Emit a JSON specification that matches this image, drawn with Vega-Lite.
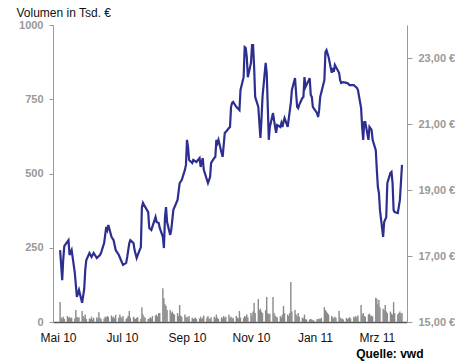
{
  "$schema": "https://vega.github.io/schema/vega-lite/v6.json",
  "width": 354,
  "height": 297,
  "autosize": {"type": "none"},
  "padding": {"left": 53, "top": 25, "right": 57, "bottom": 39},
  "background": "white",
  "config": {"view": {"stroke": null}, "font": "Liberation Sans"},
  "datasets": {
    "vol": [
      {"d":"2010-05-03","v":67},{"d":"2010-05-04","v":15},{"d":"2010-05-05","v":12},{"d":"2010-05-06","v":18},{"d":"2010-05-07","v":10},
      {"d":"2010-05-10","v":20},{"d":"2010-05-11","v":14},{"d":"2010-05-12","v":17},{"d":"2010-05-13","v":12},{"d":"2010-05-14","v":15},
      {"d":"2010-05-17","v":12},{"d":"2010-05-18","v":40},{"d":"2010-05-19","v":18},{"d":"2010-05-20","v":14},{"d":"2010-05-21","v":16},
      {"d":"2010-05-24","v":37},{"d":"2010-05-25","v":20},{"d":"2010-05-26","v":14},{"d":"2010-05-27","v":25},{"d":"2010-05-28","v":10},
      {"d":"2010-05-31","v":12},{"d":"2010-06-01","v":10},{"d":"2010-06-02","v":18},{"d":"2010-06-03","v":8},{"d":"2010-06-04","v":14},
      {"d":"2010-06-07","v":16},{"d":"2010-06-08","v":12},{"d":"2010-06-09","v":33},{"d":"2010-06-10","v":14},{"d":"2010-06-11","v":10},
      {"d":"2010-06-14","v":12},{"d":"2010-06-15","v":18},{"d":"2010-06-16","v":15},{"d":"2010-06-17","v":20},{"d":"2010-06-18","v":17},
      {"d":"2010-06-21","v":22},{"d":"2010-06-22","v":15},{"d":"2010-06-23","v":18},{"d":"2010-06-24","v":12},{"d":"2010-06-25","v":24},
      {"d":"2010-06-28","v":14},{"d":"2010-06-29","v":25},{"d":"2010-06-30","v":17},{"d":"2010-07-01","v":12},{"d":"2010-07-02","v":20},
      {"d":"2010-07-05","v":10},{"d":"2010-07-06","v":14},{"d":"2010-07-07","v":20},{"d":"2010-07-08","v":37},{"d":"2010-07-09","v":15},
      {"d":"2010-07-12","v":18},{"d":"2010-07-13","v":12},{"d":"2010-07-14","v":10},{"d":"2010-07-15","v":14},{"d":"2010-07-16","v":16},
      {"d":"2010-07-19","v":10},{"d":"2010-07-20","v":50},{"d":"2010-07-21","v":25},{"d":"2010-07-22","v":18},{"d":"2010-07-23","v":14},
      {"d":"2010-07-26","v":10},{"d":"2010-07-27","v":12},{"d":"2010-07-28","v":16},{"d":"2010-07-29","v":12},{"d":"2010-07-30","v":20},
      {"d":"2010-08-02","v":22},{"d":"2010-08-03","v":25},{"d":"2010-08-04","v":18},{"d":"2010-08-05","v":30},{"d":"2010-08-06","v":30},
      {"d":"2010-08-09","v":114},{"d":"2010-08-10","v":80},{"d":"2010-08-11","v":60},{"d":"2010-08-12","v":55},{"d":"2010-08-13","v":40},
      {"d":"2010-08-16","v":40},{"d":"2010-08-17","v":30},{"d":"2010-08-18","v":35},{"d":"2010-08-19","v":28},{"d":"2010-08-20","v":25},
      {"d":"2010-08-23","v":30},{"d":"2010-08-24","v":20},{"d":"2010-08-25","v":57},{"d":"2010-08-26","v":22},{"d":"2010-08-27","v":18},
      {"d":"2010-08-30","v":25},{"d":"2010-08-31","v":15},{"d":"2010-09-01","v":18},{"d":"2010-09-02","v":12},{"d":"2010-09-03","v":20},
      {"d":"2010-09-06","v":14},{"d":"2010-09-07","v":10},{"d":"2010-09-08","v":12},{"d":"2010-09-09","v":15},{"d":"2010-09-10","v":10},
      {"d":"2010-09-13","v":12},{"d":"2010-09-14","v":18},{"d":"2010-09-15","v":10},{"d":"2010-09-16","v":14},{"d":"2010-09-17","v":22},
      {"d":"2010-09-20","v":14},{"d":"2010-09-21","v":20},{"d":"2010-09-22","v":12},{"d":"2010-09-23","v":10},{"d":"2010-09-24","v":16},
      {"d":"2010-09-27","v":18},{"d":"2010-09-28","v":12},{"d":"2010-09-29","v":25},{"d":"2010-09-30","v":14},{"d":"2010-10-01","v":10},
      {"d":"2010-10-04","v":16},{"d":"2010-10-05","v":12},{"d":"2010-10-06","v":20},{"d":"2010-10-07","v":14},{"d":"2010-10-08","v":18},
      {"d":"2010-10-11","v":25},{"d":"2010-10-12","v":15},{"d":"2010-10-13","v":18},{"d":"2010-10-14","v":12},{"d":"2010-10-15","v":14},
      {"d":"2010-10-18","v":20},{"d":"2010-10-19","v":15},{"d":"2010-10-20","v":12},{"d":"2010-10-21","v":37},{"d":"2010-10-22","v":15},
      {"d":"2010-10-25","v":14},{"d":"2010-10-26","v":20},{"d":"2010-10-27","v":18},{"d":"2010-10-28","v":25},{"d":"2010-10-29","v":16},
      {"d":"2010-11-01","v":30},{"d":"2010-11-02","v":22},{"d":"2010-11-03","v":35},{"d":"2010-11-04","v":64},{"d":"2010-11-05","v":30},
      {"d":"2010-11-08","v":77},{"d":"2010-11-09","v":40},{"d":"2010-11-10","v":45},{"d":"2010-11-11","v":35},{"d":"2010-11-12","v":30},
      {"d":"2010-11-15","v":40},{"d":"2010-11-16","v":84},{"d":"2010-11-17","v":30},{"d":"2010-11-18","v":25},{"d":"2010-11-19","v":28},
      {"d":"2010-11-22","v":84},{"d":"2010-11-23","v":30},{"d":"2010-11-24","v":22},{"d":"2010-11-25","v":18},{"d":"2010-11-26","v":15},
      {"d":"2010-11-29","v":20},{"d":"2010-11-30","v":15},{"d":"2010-12-01","v":25},{"d":"2010-12-02","v":54},{"d":"2010-12-03","v":30},
      {"d":"2010-12-06","v":25},{"d":"2010-12-07","v":20},{"d":"2010-12-08","v":30},{"d":"2010-12-09","v":135},{"d":"2010-12-10","v":35},
      {"d":"2010-12-13","v":40},{"d":"2010-12-14","v":25},{"d":"2010-12-15","v":20},{"d":"2010-12-16","v":30},{"d":"2010-12-17","v":18},
      {"d":"2010-12-20","v":15},{"d":"2010-12-21","v":12},{"d":"2010-12-22","v":25},{"d":"2010-12-23","v":10},{"d":"2010-12-24","v":8},
      {"d":"2010-12-27","v":8},{"d":"2010-12-28","v":10},{"d":"2010-12-29","v":8},{"d":"2010-12-30","v":6},{"d":"2010-12-31","v":5},
      {"d":"2011-01-03","v":10},{"d":"2011-01-04","v":8},{"d":"2011-01-05","v":12},{"d":"2011-01-06","v":10},{"d":"2011-01-07","v":14},
      {"d":"2011-01-10","v":50},{"d":"2011-01-11","v":40},{"d":"2011-01-12","v":35},{"d":"2011-01-13","v":30},{"d":"2011-01-14","v":25},
      {"d":"2011-01-17","v":20},{"d":"2011-01-18","v":15},{"d":"2011-01-19","v":12},{"d":"2011-01-20","v":18},{"d":"2011-01-21","v":14},
      {"d":"2011-01-24","v":37},{"d":"2011-01-25","v":15},{"d":"2011-01-26","v":10},{"d":"2011-01-27","v":12},{"d":"2011-01-28","v":8},
      {"d":"2011-01-31","v":14},{"d":"2011-02-01","v":10},{"d":"2011-02-02","v":12},{"d":"2011-02-03","v":16},{"d":"2011-02-04","v":12},
      {"d":"2011-02-07","v":18},{"d":"2011-02-08","v":14},{"d":"2011-02-09","v":20},{"d":"2011-02-10","v":15},{"d":"2011-02-11","v":22},
      {"d":"2011-02-14","v":57},{"d":"2011-02-15","v":25},{"d":"2011-02-16","v":30},{"d":"2011-02-17","v":20},{"d":"2011-02-18","v":18},
      {"d":"2011-02-21","v":25},{"d":"2011-02-22","v":28},{"d":"2011-02-23","v":20},{"d":"2011-02-24","v":22},{"d":"2011-02-25","v":18},
      {"d":"2011-02-28","v":82},{"d":"2011-03-01","v":78},{"d":"2011-03-02","v":60},{"d":"2011-03-03","v":74},{"d":"2011-03-04","v":50},
      {"d":"2011-03-07","v":45},{"d":"2011-03-08","v":40},{"d":"2011-03-09","v":57},{"d":"2011-03-10","v":35},{"d":"2011-03-11","v":30},
      {"d":"2011-03-14","v":35},{"d":"2011-03-15","v":28},{"d":"2011-03-16","v":25},{"d":"2011-03-17","v":67},{"d":"2011-03-18","v":30},
      {"d":"2011-03-21","v":25},{"d":"2011-03-22","v":30},{"d":"2011-03-23","v":35},{"d":"2011-03-24","v":28},{"d":"2011-03-25","v":30}
    ],
    "price": [
      {"d":"2010-05-03","p":17.18},{"d":"2010-05-05","p":16.27},{"d":"2010-05-06","p":16.9},{"d":"2010-05-07","p":17.3},{"d":"2010-05-11","p":17.48},
      {"d":"2010-05-12","p":17.03},{"d":"2010-05-14","p":17.18},{"d":"2010-05-17","p":16.5},{"d":"2010-05-19","p":15.76},{"d":"2010-05-21","p":15.97},
      {"d":"2010-05-24","p":15.58},{"d":"2010-05-26","p":16.0},{"d":"2010-05-27","p":16.58},{"d":"2010-05-28","p":16.88},{"d":"2010-05-31","p":17.09},
      {"d":"2010-06-02","p":16.97},{"d":"2010-06-04","p":17.09},{"d":"2010-06-07","p":16.94},{"d":"2010-06-10","p":17.03},{"d":"2010-06-11","p":17.09},
      {"d":"2010-06-14","p":17.39},{"d":"2010-06-16","p":17.88},{"d":"2010-06-17","p":17.79},{"d":"2010-06-18","p":17.94},{"d":"2010-06-21","p":17.58},
      {"d":"2010-06-23","p":17.48},{"d":"2010-06-25","p":17.18},{"d":"2010-06-28","p":17.03},{"d":"2010-06-30","p":16.88},{"d":"2010-07-02","p":16.73},
      {"d":"2010-07-05","p":16.79},{"d":"2010-07-06","p":16.97},{"d":"2010-07-08","p":17.39},{"d":"2010-07-09","p":17.48},{"d":"2010-07-12","p":17.39},
      {"d":"2010-07-13","p":17.18},{"d":"2010-07-15","p":16.94},{"d":"2010-07-16","p":17.03},{"d":"2010-07-19","p":17.27},{"d":"2010-07-20","p":18.48},
      {"d":"2010-07-21","p":18.61},{"d":"2010-07-22","p":18.55},{"d":"2010-07-26","p":18.33},{"d":"2010-07-27","p":17.85},{"d":"2010-07-29","p":17.79},
      {"d":"2010-08-02","p":18.18},{"d":"2010-08-03","p":18.03},{"d":"2010-08-05","p":18.0},{"d":"2010-08-06","p":17.85},{"d":"2010-08-09","p":17.58},
      {"d":"2010-08-10","p":17.24},{"d":"2010-08-11","p":18.18},{"d":"2010-08-12","p":18.48},{"d":"2010-08-13","p":18.03},{"d":"2010-08-16","p":17.64},
      {"d":"2010-08-17","p":17.79},{"d":"2010-08-19","p":18.40},{"d":"2010-08-23","p":18.70},{"d":"2010-08-25","p":19.21},{"d":"2010-08-27","p":19.30},
      {"d":"2010-08-30","p":19.61},{"d":"2010-08-31","p":19.76},{"d":"2010-09-01","p":20.52},{"d":"2010-09-02","p":20.30},{"d":"2010-09-03","p":19.91},
      {"d":"2010-09-06","p":19.82},{"d":"2010-09-07","p":19.91},{"d":"2010-09-10","p":19.85},{"d":"2010-09-13","p":19.97},{"d":"2010-09-14","p":19.70},
      {"d":"2010-09-16","p":19.97},{"d":"2010-09-17","p":19.61},{"d":"2010-09-21","p":19.21},{"d":"2010-09-23","p":19.39},{"d":"2010-09-24","p":19.82},
      {"d":"2010-09-27","p":19.97},{"d":"2010-09-28","p":20.0},{"d":"2010-09-29","p":20.52},{"d":"2010-09-30","p":20.42},{"d":"2010-10-01","p":20.52},
      {"d":"2010-10-04","p":20.12},{"d":"2010-10-05","p":20.0},{"d":"2010-10-07","p":20.73},{"d":"2010-10-08","p":20.76},{"d":"2010-10-11","p":20.88},
      {"d":"2010-10-12","p":20.91},{"d":"2010-10-13","p":21.52},{"d":"2010-10-14","p":21.64},{"d":"2010-10-15","p":21.67},{"d":"2010-10-18","p":21.52},
      {"d":"2010-10-21","p":21.42},{"d":"2010-10-22","p":22.03},{"d":"2010-10-25","p":22.42},{"d":"2010-10-26","p":23.33},{"d":"2010-10-27","p":23.30},
      {"d":"2010-10-28","p":23.03},{"d":"2010-10-29","p":22.42},{"d":"2010-11-01","p":22.85},{"d":"2010-11-02","p":23.39},{"d":"2010-11-03","p":23.39},
      {"d":"2010-11-04","p":22.73},{"d":"2010-11-05","p":21.82},{"d":"2010-11-08","p":21.52},{"d":"2010-11-09","p":21.03},{"d":"2010-11-10","p":20.58},
      {"d":"2010-11-11","p":21.12},{"d":"2010-11-12","p":21.82},{"d":"2010-11-15","p":22.85},{"d":"2010-11-16","p":22.55},{"d":"2010-11-18","p":20.52},
      {"d":"2010-11-19","p":20.91},{"d":"2010-11-22","p":21.33},{"d":"2010-11-23","p":21.12},{"d":"2010-11-24","p":20.91},{"d":"2010-11-25","p":20.73},
      {"d":"2010-11-26","p":20.97},{"d":"2010-11-29","p":20.91},{"d":"2010-11-30","p":21.03},{"d":"2010-12-01","p":20.91},{"d":"2010-12-02","p":21.06},
      {"d":"2010-12-03","p":21.18},{"d":"2010-12-06","p":20.91},{"d":"2010-12-09","p":21.64},{"d":"2010-12-10","p":22.03},{"d":"2010-12-13","p":22.39},
      {"d":"2010-12-14","p":21.94},{"d":"2010-12-15","p":21.52},{"d":"2010-12-16","p":21.48},{"d":"2010-12-17","p":21.58},{"d":"2010-12-20","p":21.79},
      {"d":"2010-12-21","p":21.82},{"d":"2010-12-22","p":22.42},{"d":"2010-12-23","p":22.12},{"d":"2010-12-27","p":22.39},{"d":"2010-12-28","p":21.88},
      {"d":"2010-12-29","p":21.82},{"d":"2010-12-30","p":21.52},{"d":"2011-01-03","p":21.33},{"d":"2011-01-04","p":21.21},{"d":"2011-01-05","p":21.42},
      {"d":"2011-01-06","p":21.82},{"d":"2011-01-10","p":22.33},{"d":"2011-01-11","p":23.18},{"d":"2011-01-12","p":23.24},{"d":"2011-01-14","p":23.03},
      {"d":"2011-01-17","p":22.55},{"d":"2011-01-18","p":22.70},{"d":"2011-01-19","p":22.58},{"d":"2011-01-20","p":22.79},{"d":"2011-01-21","p":22.73},
      {"d":"2011-01-24","p":22.55},{"d":"2011-01-25","p":22.33},{"d":"2011-01-26","p":22.24},{"d":"2011-01-28","p":22.27},{"d":"2011-02-01","p":22.24},
      {"d":"2011-02-03","p":22.18},{"d":"2011-02-07","p":22.18},{"d":"2011-02-10","p":22.09},{"d":"2011-02-11","p":22.03},{"d":"2011-02-14","p":21.48},
      {"d":"2011-02-15","p":20.91},{"d":"2011-02-16","p":20.52},{"d":"2011-02-17","p":21.06},{"d":"2011-02-18","p":21.06},{"d":"2011-02-21","p":20.52},
      {"d":"2011-02-22","p":20.91},{"d":"2011-02-24","p":20.82},{"d":"2011-02-25","p":20.52},{"d":"2011-02-28","p":20.21},{"d":"2011-03-01","p":19.61},
      {"d":"2011-03-02","p":19.09},{"d":"2011-03-03","p":18.91},{"d":"2011-03-04","p":18.39},{"d":"2011-03-07","p":17.58},{"d":"2011-03-08","p":18.03},
      {"d":"2011-03-10","p":18.18},{"d":"2011-03-11","p":19.21},{"d":"2011-03-14","p":19.52},{"d":"2011-03-15","p":19.55},{"d":"2011-03-16","p":19.21},
      {"d":"2011-03-17","p":18.39},{"d":"2011-03-18","p":18.33},{"d":"2011-03-21","p":18.30},{"d":"2011-03-23","p":18.70},{"d":"2011-03-25","p":19.76}
    ]
  },
  "encoding": {
    "x": {
      "field": "d",
      "type": "temporal",
      "scale": {
        "type": "utc",
        "domain": [
          {"year": 2010, "month": 5, "date": 1, "utc": true},
          {"year": 2011, "month": 3, "date": 25, "utc": true}
        ]
      },
      "axis": {
        "values": [
          {"year": 2010, "month": 5, "date": 1, "utc": true},
          {"year": 2010, "month": 7, "date": 1, "utc": true},
          {"year": 2010, "month": 9, "date": 1, "utc": true},
          {"year": 2010, "month": 11, "date": 1, "utc": true},
          {"year": 2011, "month": 1, "date": 1, "utc": true},
          {"year": 2011, "month": 3, "date": 1, "utc": true}
        ],
        "labelExpr": "['Jan','Feb','Mrz','Apr','Mai','Jun','Jul','Aug','Sep','Okt','Nov','Dez'][utcmonth(datum.value)] + ' ' + utcFormat(datum.value, '%y')",
        "ticks": false,
        "grid": false,
        "labelPadding": 10,
        "labelFont": "Liberation Sans",
        "labelFontSize": 12,
        "labelColor": "#111111",
        "labelFlush": false,
        "domainColor": "#555555",
        "domainWidth": 1.5,
        "title": "Quelle: vwd",
        "titleFont": "Liberation Sans",
        "titleFontSize": 12,
        "titleFontWeight": "bold",
        "titleColor": "#000000",
        "titleAlign": "right",
        "titleAnchor": null,
        "titleBaseline": "alphabetic",
        "titleX": 370,
        "titleY": 35
      }
    }
  },
  "layer": [
    {
      "data": {"name": "vol"},
      "mark": {"type": "bar", "size": 1.4, "color": "#8a8a8a"},
      "encoding": {
        "y": {
          "field": "v",
          "type": "quantitative",
          "scale": {"domain": [0, 1000], "nice": false},
          "axis": {
            "values": [0, 250, 500, 750, 1000],
            "format": "d",
            "grid": false,
            "tickSize": 4,
            "tickColor": "#999999",
            "domainColor": "#999999",
            "labelPadding": 6,
            "labelFont": "Liberation Sans",
            "labelFontSize": 11,
            "labelFontWeight": "bold",
            "labelColor": "#999999",
            "title": "Volumen in Tsd. €",
            "titleFont": "Liberation Sans",
            "titleFontSize": 12,
            "titleFontWeight": "normal",
            "titleColor": "#111111",
            "titleAngle": 0,
            "titleAlign": "left",
            "titleAnchor": null,
            "titleBaseline": "alphabetic",
            "titleX": -37,
            "titleY": -9
          }
        }
      }
    },
    {
      "data": {"name": "price"},
      "mark": {"type": "line", "color": "#2c2f8f", "strokeWidth": 2.2, "interpolate": "linear"},
      "encoding": {
        "y": {
          "field": "p",
          "type": "quantitative",
          "scale": {"domain": [15, 24], "nice": false, "zero": false},
          "axis": {
            "orient": "right",
            "values": [15, 17, 19, 21, 23],
            "grid": false,
            "tickSize": 5,
            "tickColor": "#999999",
            "domainColor": "#999999",
            "labelPadding": 6,
            "labelFont": "Liberation Sans",
            "labelFontSize": 11,
            "labelFontWeight": "bold",
            "labelColor": "#999999",
            "labelExpr": "replace(format(datum.value, '.2f'), '.', ',') + ' €'",
            "title": null
          }
        }
      }
    }
  ],
  "resolve": {"scale": {"y": "independent"}}
}
